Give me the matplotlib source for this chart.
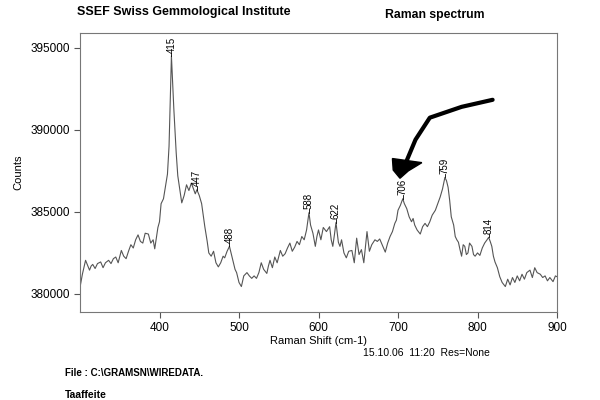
import matplotlib
matplotlib.use("Agg")
import matplotlib.pyplot as plt

plt.rcParams['font.family'] = ['Liberation Sans', 'DejaVu Sans']

shift = [300,303,307,310,312,314,316,319,322,326,329,332,336,339,342,345,348,352,355,358,
         361,364,367,370,373,376,379,382,386,389,392,394,396,398,400,402,405,408,410,412,
         415,418,421,423,426,428,431,434,437,440,442,445,447,450,453,455,457,460,462,465,
         468,471,474,477,480,482,485,488,491,493,495,497,500,503,506,510,513,516,519,522,
         525,528,531,535,537,539,542,545,548,552,555,558,561,564,567,570,573,576,579,582,
         585,588,590,593,596,598,600,603,606,610,614,616,618,620,622,625,627,629,632,635,
         638,642,645,648,651,654,657,661,664,667,671,674,677,680,684,687,690,693,696,698,
         700,703,706,708,711,714,717,719,721,724,728,731,734,737,740,743,747,750,753,756,
         759,761,763,765,767,770,772,774,776,778,780,782,784,786,788,790,793,795,797,800,
         803,806,809,812,814,816,818,820,822,825,828,831,835,838,841,844,847,850,853,856,
         859,862,866,869,872,875,879,882,885,888,891,895,898,900]
counts = [380400,381200,382050,381700,381450,381700,381800,381550,381850,381950,381600,381900,382050,381850,382150,382250,381900,382650,382300,382150,
          382600,383000,382800,383300,383600,383200,383100,383700,383650,383100,383300,382750,383400,384050,384400,385500,385800,386700,387300,389000,
          394500,391300,388600,387200,386200,385550,386000,386650,386300,386750,386500,386100,386350,386000,385500,384800,384100,383200,382500,382300,
          382600,381900,381650,381900,382300,382200,382600,382900,382300,381900,381500,381300,380700,380450,381100,381300,381100,380950,381100,380950,
          381300,381900,381500,381250,381700,382050,381600,382250,381900,382650,382300,382450,382800,383100,382600,382850,383200,383000,383500,383300,
          383900,384950,384200,383700,382900,383500,383900,383300,384050,383800,384100,383300,382900,383600,384350,383150,382900,383300,382500,382200,
          382600,382650,381900,383400,382400,382700,381900,383800,382600,383000,383300,383200,383350,383000,382550,383100,383500,383800,384300,384500,
          385100,385400,385800,385500,385200,384700,384400,384600,384200,383900,383650,384100,384300,384100,384400,384800,385100,385500,385900,386400,
          387100,386900,386500,385700,384700,384200,383500,383300,383150,382700,382300,383000,382900,382400,382500,383100,382900,382400,382300,382500,
          382350,382800,383100,383300,383450,383200,382900,382300,381950,381600,381050,380700,380450,380900,380550,381000,380700,381100,380800,381200,
          380900,381300,381450,381000,381600,381300,381200,381000,381100,380800,381000,380750,381100,381050]

peak_labels = [415, 447, 488, 588, 622, 706, 759, 814]
x_ticks = [400, 500, 600, 700, 800, 900]
y_ticks = [380000, 385000, 390000, 395000]

# hand-drawn arrow (annotation, data coords)
arrow_x = [819, 780, 740, 722, 709]
arrow_y = [391830, 391400, 390740, 389400, 387900]
head_x = [693, 730, 713, 702.5, 694]
head_y = [388250, 388000, 387500, 387050, 387550]

fig = plt.figure(figsize=(6, 4), dpi=100)
ax = fig.add_axes([80/600, 1-312/400, 477/600, 279/400])
ax.plot(shift, counts, color='#555555', lw=0.8)
ax.set_xlim(300, 900)
ax.set_ylim(378900, 395900)
ax.set_xticks(x_ticks)
ax.set_yticks(y_ticks)
ax.set_yticklabels([str(v) for v in y_ticks])
ax.tick_params(direction='out', length=4, width=0.8, colors='#555555', labelsize=8.5, labelcolor='black')
for s in ax.spines.values():
    s.set_color('#777777')
    s.set_linewidth(0.8)
ax.set_xlabel('Raman Shift (cm-1)', fontsize=8, labelpad=1)
ax.set_ylabel('Counts', fontsize=8, labelpad=5)

for p in peak_labels:
    i = min(range(len(shift)), key=lambda k: abs(shift[k] - p))
    yv = counts[i]
    ax.plot([shift[i], shift[i]], [yv, yv + 200], color='black', lw=0.6)
    ax.text(shift[i], yv + 200, str(p), rotation=90, ha='center', va='bottom', fontsize=7)

ax.plot(arrow_x, arrow_y, color='black', lw=3, solid_capstyle='round', solid_joinstyle='round')
ax.fill(head_x, head_y, color='black')

fig.text(77/600, 1-12/400, 'SSEF Swiss Gemmological Institute', fontsize=9, fontweight='bold', va='center', ha='left')
fig.text(385/600, 1-15/400, 'Raman spectrum', fontsize=8.8, fontweight='bold', va='center', ha='left')
fig.text(490/600, 1-353/400, '15.10.06  11:20  Res=None', fontsize=7.5, va='center', ha='right')
fig.text(65/600, 1-373/400, 'File : C:\\GRAMSN\\WIREDATA.', fontsize=7, fontweight='bold', va='center', ha='left')
fig.text(65/600, 1-395/400, 'Taaffeite', fontsize=7.5, fontweight='bold', va='center', ha='left')

fig.savefig('out.png', dpi=100)
